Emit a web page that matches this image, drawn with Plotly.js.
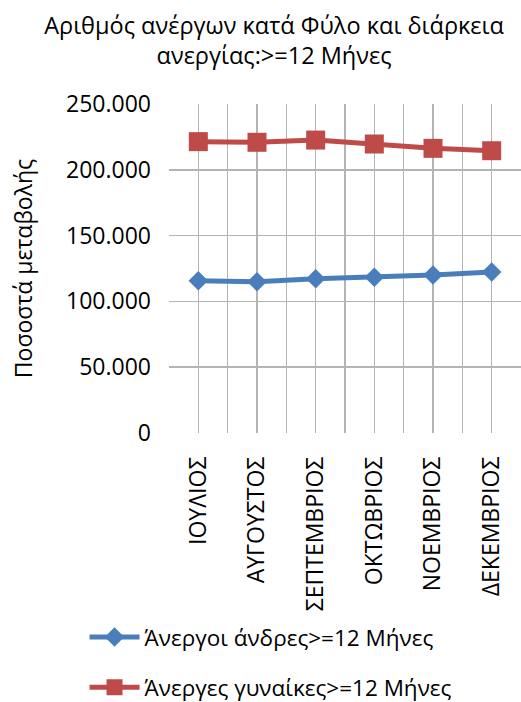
<!DOCTYPE html>
<html>
<head>
<meta charset="utf-8">
<script src="https://cdn.plot.ly/plotly-3.0.1.min.js"></script>
<style>html,body{margin:0;padding:0;background:#fff;}#chart{width:521px;height:702px;}</style>
</head>
<body>
<div id="chart"></div>
<script>
const categories = ["ΙΟΥΛΙΟΣ", "ΑΥΓΟΥΣΤΟΣ", "ΣΕΠΤΕΜΒΡΙΟΣ", "ΟΚΤΩΒΡΙΟΣ", "ΝΟΕΜΒΡΙΟΣ", "ΔΕΚΕΜΒΡΙΟΣ"];
const menValues = [115700, 115000, 117300, 118300, 120100, 122300];
const womenValues = [221400, 220900, 222600, 219600, 216300, 214500];
const menName = "Άνεργοι άνδρες>=12 Μήνες";
const womenName = "Άνεργες γυναίκες>=12 Μήνες";
const titleText = "Αριθμός ανέργων κατά Φύλο και διάρκεια<br>ανεργίας:>=12 Μήνες";
const yTitle = "Ποσοστά μεταβολής";

const font = "Open Sans, Noto Sans, sans-serif";
const gridColor = "#b4b4b4";

const traces = [
  {x: categories, y: menValues, name: menName, type: "scatter", mode: "lines+markers",
   legendgroup: "a",
   line: {color: "#4a7ebb", width: 5}, marker: {symbol: "diamond", size: 15, color: "#4a7ebb"}},
  {x: categories, y: womenValues, name: womenName, type: "scatter", mode: "lines+markers",
   legendgroup: "b",
   line: {color: "#be4b48", width: 5}, marker: {symbol: "square", size: 19, color: "#be4b48"}},
  {x: [0], y: [0], xaxis: "x2", yaxis: "y", mode: "markers", marker: {opacity: 0}, showlegend: false, hoverinfo: "skip"}
];

const layout = {
  width: 521, height: 702,
  paper_bgcolor: "#fff", plot_bgcolor: "#fff",
  separators: ",.",
  font: {family: font, color: "#000", size: 22},
  margin: {l: 169, r: 0, t: 104, b: 269, pad: 0, autoexpand: false},
  title: {text: titleText, x: 0.526, xanchor: "center", y: 0.952, yanchor: "top",
          font: {family: font, size: 23.5, color: "#000"}},
  xaxis: {type: "category", range: [-0.5, 5.5], showgrid: false, zeroline: false, automargin: false,
          showline: false, ticks: "", tickangle: -90, ticklabelstandoff: 18,
          tickfont: {family: font, size: 23, color: "#000"}},
  xaxis2: {overlaying: "x", range: [-0.5, 5.5], tick0: -0.5, dtick: 0.5, showgrid: true,
           gridcolor: gridColor, gridwidth: 1.5, showticklabels: false, zeroline: false, ticks: ""},
  yaxis: {range: [0, 250000], dtick: 50000, tickformat: ",d", showgrid: true, automargin: false,
          gridcolor: gridColor, gridwidth: 1.5, zeroline: false, showline: false, ticks: "",
          ticklabelstandoff: 17,
          tickfont: {family: font, size: 23, color: "#000"},
          title: {text: yTitle, standoff: 26, font: {family: font, size: 23, color: "#000"}}},
  showlegend: true,
  legend: {orientation: "v", x: -0.24, xanchor: "left", y: -0.556, yanchor: "top",
           traceorder: "grouped", tracegroupgap: 18,
           font: {family: font, size: 22.5, color: "#000"}, itemwidth: 50,
           bgcolor: "rgba(0,0,0,0)"}
};

Plotly.newPlot("chart", traces, layout, {displayModeBar: false, staticPlot: true});
</script>
</body>
</html>
